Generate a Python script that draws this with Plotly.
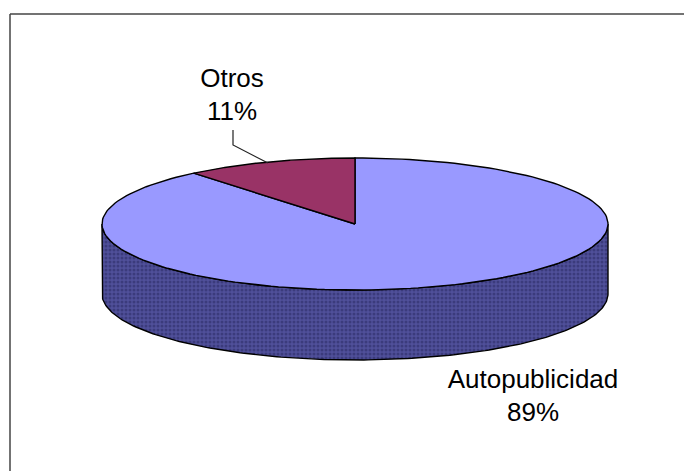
import math
import plotly.graph_objects as go

categories = ["Autopublicidad", "Otros"]
shares = [89, 11]
label_lines = ["Autopublicidad<br>89%", "Otros<br>11%"]

W, H = 684, 471
CX, CY, RX, RY, DEPTH = 355, 224, 253, 66, 70
TOP_COLOR = "#9999FF"
OTHER_COLOR = "#993366"
EDGE = "#000000"
FONT = "Liberation Sans, Arial, sans-serif"


def arc(start_deg, end_deg, n=180):
    pts = []
    for i in range(n + 1):
        a = math.radians(start_deg + (end_deg - start_deg) * i / n)
        pts.append((CX + RX * math.sin(a), CY - RY * math.cos(a)))
    return pts


fig = go.Figure()

# cylinder wall
front = arc(90, 270)
wall_x = [p[0] for p in front] + [p[0] for p in reversed(front)] + [front[0][0]]
wall_y = [p[1] for p in front] + [p[1] + DEPTH for p in reversed(front)] + [front[0][1]]
fig.add_trace(go.Scatter(
    x=wall_x, y=wall_y, mode="lines", fill="toself",
    fillcolor="#4A4A8E",
    fillpattern=dict(shape=".", fgcolor="#26265E", bgcolor="#50509A", size=4, solidity=0.45),
    line=dict(color=EDGE, width=1.4), hoverinfo="skip", showlegend=False,
))

# slices: Otros ends at twelve o'clock, Autopublicidad takes the rest
otros_span = 360 * shares[1] / sum(shares)
spans = {"Autopublicidad": (0, 360 - otros_span), "Otros": (360 - otros_span, 360)}
colors = {"Autopublicidad": TOP_COLOR, "Otros": OTHER_COLOR}
for name in categories:
    s, e = spans[name]
    pts = [(CX, CY)] + arc(s, e) + [(CX, CY)]
    fig.add_trace(go.Scatter(
        x=[p[0] for p in pts], y=[p[1] for p in pts], mode="lines", fill="toself",
        fillcolor=colors[name], line=dict(color=EDGE, width=1.4),
        name=name, hoverinfo="skip", showlegend=False,
    ))

# leader line
fig.add_trace(go.Scatter(
    x=[233, 233, 268], y=[130, 145, 163], mode="lines",
    line=dict(color="#222222", width=1.2), hoverinfo="skip", showlegend=False,
))

fig.add_trace(go.Scatter(
    x=[533, 232], y=[398, 97], mode="text", text=label_lines,
    textposition="middle center",
    textfont=dict(family=FONT, size=26, color="#000000"),
    hoverinfo="skip", showlegend=False,
))

fig.update_layout(
    width=W, height=H, margin=dict(l=0, r=0, t=0, b=0, pad=0),
    paper_bgcolor="#FFFFFF", plot_bgcolor="#FFFFFF", showlegend=False,
    xaxis=dict(range=[0, W], visible=False, fixedrange=True),
    yaxis=dict(range=[H, 0], visible=False, fixedrange=True),
    shapes=[dict(type="line", x0=10, x1=W, y0=14, y1=14, line=dict(color="#444444", width=1.5)),
            dict(type="line", x0=10, x1=10, y0=14, y1=H, line=dict(color="#444444", width=1.5))],
)
fig.write_html(
    "out.html",
    config={"displayModeBar": False},
    post_script="document.body.style.margin='0';document.body.style.overflow='hidden';",
)
